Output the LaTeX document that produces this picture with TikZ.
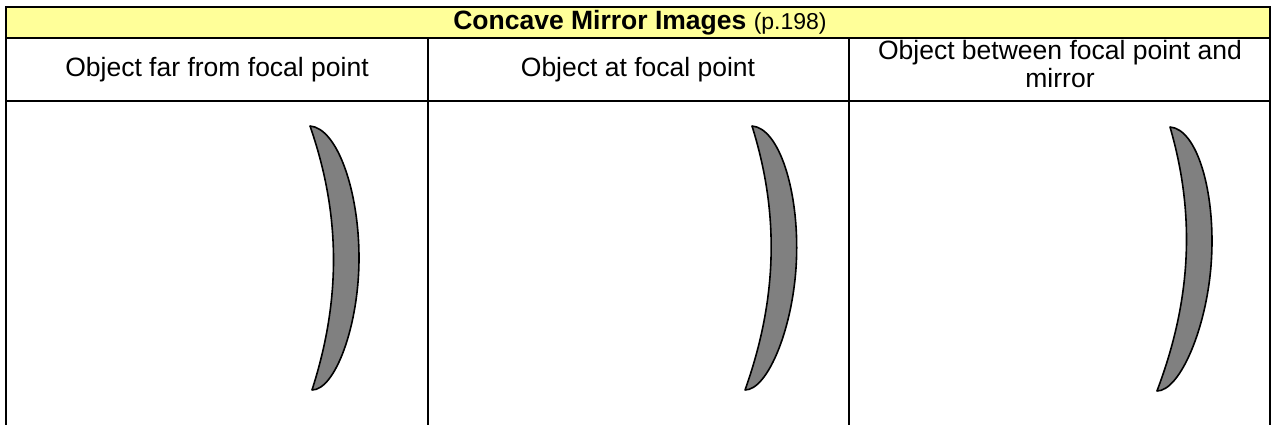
\documentclass[tikz,border=0pt]{standalone}
\usepackage{fontspec}
\setmainfont{Liberation Sans}
\definecolor{hdryellow}{HTML}{FFFF99}
\definecolor{mirrorgray}{HTML}{808080}
\begin{document}
\begin{tikzpicture}[x=1pt,y=-1pt,
  gridline/.style={line width=2pt,black},
  celltext/.style={font=\fontsize{26.5}{28}\selectfont,inner sep=0pt,align=center},
  mirrorshape/.style={fill=mirrorgray,draw=black,line width=1.6pt,line join=round}]
\useasboundingbox (0,0) rectangle (1272,425);
% header fill
\fill[hdryellow] (6,7) rectangle (1270,38);
% grid
\draw[gridline] (6,425) -- (6,7) -- (1270,7) -- (1270,425);
\draw[gridline] (6,38) -- (1270,38);
\draw[gridline] (6,101.5) -- (1270,101.5);
\draw[gridline] (427.5,38) -- (427.5,425);
\draw[gridline] (849,38) -- (849,425);
% texts
\node[celltext] (title) at (640,22.5) {\textbf{Concave Mirror Images} {\fontsize{23}{24}\selectfont(p.198)}};
\node[celltext] (c1) at (217,70) {Object far from focal point};
\node[celltext] (c2) at (638,70) {Object at focal point};
\node[celltext] (c3) at (1060,64) {Object between focal point and\\mirror};
% mirrors
\foreach \mx/\my/\ms [count=\i] in {310/126/0, 752/126/0.034, 1170/127/0.057}{
  \begin{scope}[shift={(\mx,\my)},xslant=\ms]
    \path[mirrorshape] (0,0) .. controls (31,89) and (31,174) .. (2,264)
      .. controls (25,264) and (49,200) .. (49,132)
      .. controls (49,64) and (27,2) .. (0,0) -- cycle;
  \end{scope}
}
\end{tikzpicture}
\end{document}
